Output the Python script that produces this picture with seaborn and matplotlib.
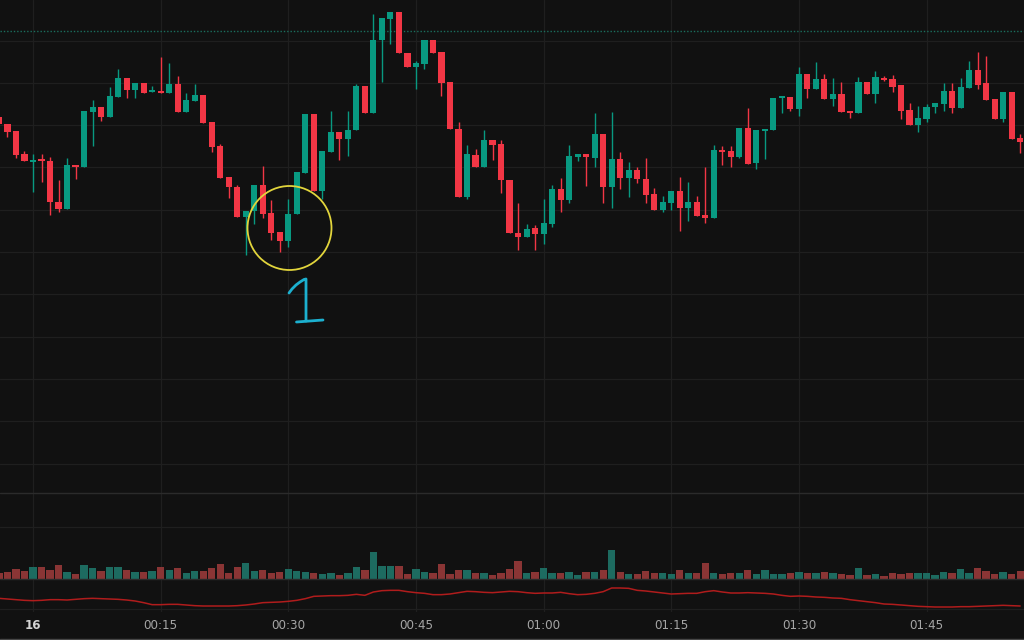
import numpy as np
import pandas as pd
import matplotlib
matplotlib.use("Agg")
import matplotlib.pyplot as plt
import seaborn as sns
from matplotlib.patches import Ellipse
from matplotlib.lines import Line2D

# ---------------- data (1-minute candles, minute 0 = 00:00 on the 16th) ----------------
minutes = list(range(-4, 117))

open_ = [383, 376, 369, 346, 338.5, 340, 339, 298, 291, 335,
         333, 388, 393, 383, 403, 422, 410, 417, 408, 408,
         407, 416, 388, 399, 405, 378, 354, 323, 313, 283,
         289, 315, 287, 268, 259, 286, 327, 386, 309, 348,
         368, 361, 370, 414, 387, 460, 481, 488, 447, 433,
         436, 460, 448, 418, 371, 303, 345, 333, 360, 356,
         320, 267, 263, 272, 266, 276, 311, 300, 343, 346,
         342, 366, 313, 341, 322, 330, 321, 306, 290, 297,
         309, 292, 298, 285, 282, 350, 349, 343, 372, 337,
         369, 370, 402, 403, 391, 426, 411, 421, 401, 406,
         389, 387, 418, 406, 422, 421, 415, 390, 375, 381,
         393, 396, 409, 392, 412, 430, 417, 401, 381, 408,
         362]

high = [384, 376, 369, 349, 346, 346, 343, 320, 342, 335,
        389, 400, 393, 413, 431, 422, 417, 417, 414, 443,
        437, 424, 407, 416, 405, 378, 356, 323, 315, 289,
        315, 334, 300, 268, 301, 328, 386, 386, 349, 389,
        368, 389, 416, 414, 486, 482, 488, 488, 447, 439,
        460, 460, 448, 418, 378, 355, 351, 370, 360, 360,
        320, 297, 276, 275, 301, 315, 322, 355, 346, 346,
        387, 366, 388, 348, 338, 333, 342, 312, 304, 309,
        323, 318, 304, 333, 355, 354, 354, 372, 392, 370,
        370, 402, 403, 403, 433, 426, 438, 426, 422, 418,
        389, 423, 418, 429, 424, 425, 415, 397, 394, 396,
        397, 417, 417, 422, 439, 448, 444, 401, 408, 408,
        366]

low = [376, 363, 342, 339, 308, 318, 285, 288, 291, 321,
       333, 354, 379, 383, 403, 402, 402, 407, 408, 407,
       407, 388, 388, 399, 377, 348, 322, 302, 283, 245,
       276, 282, 260, 248, 253, 286, 327, 309, 301, 348,
       340, 344, 370, 387, 387, 418, 456, 447, 433, 411,
       431, 447, 404, 371, 303, 301, 333, 333, 340, 307,
       267, 250, 263, 250, 256, 273, 288, 297, 339, 314,
       333, 297, 292, 311, 303, 317, 297, 290, 288, 290,
       269, 279, 284, 277, 282, 335, 333, 342, 336, 331,
       341, 370, 387, 389, 384, 402, 411, 401, 394, 388,
       382, 387, 406, 397, 419, 408, 381, 375, 368, 378,
       387, 389, 387, 392, 412, 411, 400, 381, 378, 361,
       347]

close = [376, 368, 345, 339, 340, 339, 298, 291, 335, 333,
         389, 393, 383, 404, 422, 410, 417, 407, 409, 407,
         416, 388, 400, 405, 377, 353, 322, 313, 283, 289,
         315, 286, 267, 259, 286, 328, 386, 309, 349, 368,
         361, 370, 414, 387, 460, 482, 488, 447, 433, 437,
         460, 447, 417, 371, 303, 346, 333, 360, 355, 320,
         267, 263, 271, 266, 277, 311, 300, 344, 346, 343,
         366, 313, 341, 322, 330, 321, 305, 290, 298, 309,
         292, 298, 284, 282, 350, 348, 343, 372, 336, 370,
         370, 402, 403, 391, 426, 411, 421, 401, 406, 388,
         387, 418, 406, 423, 420, 413, 389, 375, 382, 393,
         397, 409, 392, 413, 430, 415, 400, 381, 408, 361,
         358]

volume = [18, 22, 30, 24, 35, 35, 27, 43, 22, 14,
          43, 32, 24, 35, 35, 27, 22, 22, 25, 35,
          27, 32, 19, 24, 24, 32, 46, 19, 35, 49,
          24, 27, 19, 22, 30, 24, 22, 19, 14, 19,
          11, 17, 35, 27, 82, 38, 38, 38, 14, 30,
          22, 17, 46, 14, 27, 27, 17, 19, 11, 19,
          30, 54, 19, 22, 32, 19, 19, 22, 11, 22,
          22, 27, 87, 22, 14, 14, 24, 19, 17, 14,
          27, 19, 19, 49, 19, 14, 17, 17, 27, 14,
          27, 14, 14, 19, 22, 17, 19, 22, 19, 14,
          11, 32, 11, 14, 8, 19, 14, 17, 19, 19,
          11, 22, 19, 30, 19, 32, 24, 14, 22, 14,
          24]

indicator = [35, 33, 31, 29, 28, 29, 31, 31, 30, 32,
             34, 35, 34, 33, 32, 30, 27, 22, 16, 16,
             17, 17, 15, 13, 12, 12, 12, 12, 13, 15,
             18, 22, 23, 24, 26, 29, 34, 41, 42, 43,
             43, 44, 47, 44, 54, 58, 59, 59, 55, 52,
             50, 46, 46, 48, 52, 56, 55, 53, 52, 54,
             56, 55, 52, 50, 51, 51, 53, 49, 46, 47,
             50, 55, 66, 66, 65, 59, 57, 54, 51, 48,
             49, 50, 50, 55, 58, 54, 51, 51, 52, 51,
             50, 48, 44, 41, 42, 41, 39, 38, 36, 35,
             31, 28, 25, 22, 18, 17, 15, 13, 11, 10,
             9, 9, 9, 10, 10, 11, 12, 13, 14, 13,
             12]

time_ticks = [0, 15, 30, 45, 60, 75, 90, 105]
time_labels = ["16", "00:15", "00:30", "00:45", "01:00", "01:15", "01:30", "01:45"]
price_grid = [459.5, 417.2, 374.9, 332.6, 290.3, 248.0, 205.7, 163.4, 121.1, 78.8, 36.5]
dotted_level = 469

df = pd.DataFrame(dict(minute=minutes, open=open_, high=high, low=low,
                       close=close, volume=volume, ind=indicator))

# ---------------- style ----------------
sns.set_theme(style="dark")
plt.rcParams['font.family'] = ['DejaVu Sans']

BG = '#111111'
GRID = '#1f1f1f'
UP = '#089981'
DOWN = '#f23645'
VUP = '#1d6b60'
VDOWN = '#8a3535'

W, H = 1024.0, 640.0
fig = plt.figure(figsize=(10.24, 6.4), dpi=100, facecolor=BG)


def pane(top, bottom):
    return [0, (H - bottom) / H, 1, (bottom - top) / H]


ax = fig.add_axes(pane(0, 493))
axv = fig.add_axes(pane(493, 579), sharex=ax)
axi = fig.add_axes(pane(579, 612), sharex=ax)

px_per_min = 8.51
x0 = -33 / px_per_min
x1 = (W - 33) / px_per_min

for a in (ax, axv, axi):
    a.set_facecolor(BG)
    for s in a.spines.values():
        s.set_visible(False)
    a.grid(False)
    for t in time_ticks:
        a.axvline(t, color=GRID, lw=0.9, zorder=0)

ax.set_xlim(x0, x1)
ax.set_ylim(7, 500)
axv.set_ylim(0, 258)
axi.set_ylim(-6, 93)

for g in price_grid:
    ax.axhline(g, color=GRID, lw=0.9, zorder=0)
axv.axhline(156, color=GRID, lw=0.9, zorder=0)
axi.axhline(3, color=GRID, lw=0.9, zorder=0)

ax.axhline(dotted_level, color='#1b6e5d', lw=1.0, ls=(0, (1, 1.4)), zorder=1)

# ---------------- candles ----------------
up = df['close'] >= df['open']
ccol = np.where(up, UP, DOWN)
ax.vlines(df['minute'], df['low'], df['high'], colors=ccol, lw=1.0, zorder=2)
body_bot = np.minimum(df['open'], df['close'])
body_h = np.maximum((df['close'] - df['open']).abs(), 1.6)
ax.bar(df['minute'], body_h, bottom=body_bot, width=0.72, color=ccol,
       linewidth=0, zorder=3)

# ---------------- volume ----------------
vcol = np.where(up, VUP, VDOWN)
axv.bar(df['minute'], df['volume'], width=0.86, color=vcol, linewidth=0, zorder=2)

# ---------------- indicator line ----------------
sns.lineplot(data=df, x='minute', y='ind', ax=axi, color='#b01c1c', lw=1.1, zorder=2)
axi.set_xlabel('')
axi.set_ylabel('')

# ---------------- annotations ----------------
cx, cy = (289.5 - 33) / px_per_min, 500 - 228
ax.add_patch(Ellipse((cx, cy), width=2 * 42 / px_per_min, height=84,
                     fill=False, edgecolor='#e2d53c', lw=1.3, zorder=5))
one_x = [(p - 33) / px_per_min for p in (289, 292, 296, 300, 304, 306, 306)]
one_y = [500 - p for p in (293, 289, 285, 282, 279.5, 279, 321)]
ax.plot(one_x, one_y, color='#1cb0cf', lw=2.0, solid_capstyle='round',
        solid_joinstyle='round', zorder=5)
base_x = [(p - 33) / px_per_min for p in (296.5, 323)]
base_y = [500 - 322, 500 - 320]
ax.plot(base_x, base_y, color='#1cb0cf', lw=2.0, solid_capstyle='round', zorder=5)

# ---------------- axes / ticks ----------------
for a in (ax, axv):
    a.tick_params(left=False, bottom=False, labelleft=False, labelbottom=False)
axi.tick_params(left=False, labelleft=False, bottom=False, labelbottom=True,
                length=0, pad=5, labelsize=8.6, labelcolor='#a6a6a6')
axi.set_xticks(time_ticks)
axi.set_xticklabels(time_labels)
axi.set_yticks([])
lbl0 = axi.get_xticklabels()[0]
lbl0.set_fontweight('bold')
lbl0.set_color('#d4d4d4')
axi.set_xlim(x0, x1)

# pane separators and bottom rule
for ypx, col in ((493, '#2b2b2b'), (579, '#2b2b2b'), (638.5, '#474747')):
    fig.add_artist(Line2D([0, 1], [(H - ypx) / H] * 2, transform=fig.transFigure,
                          color=col, lw=1.0))

fig.savefig('out.png', dpi=100, facecolor=BG)
